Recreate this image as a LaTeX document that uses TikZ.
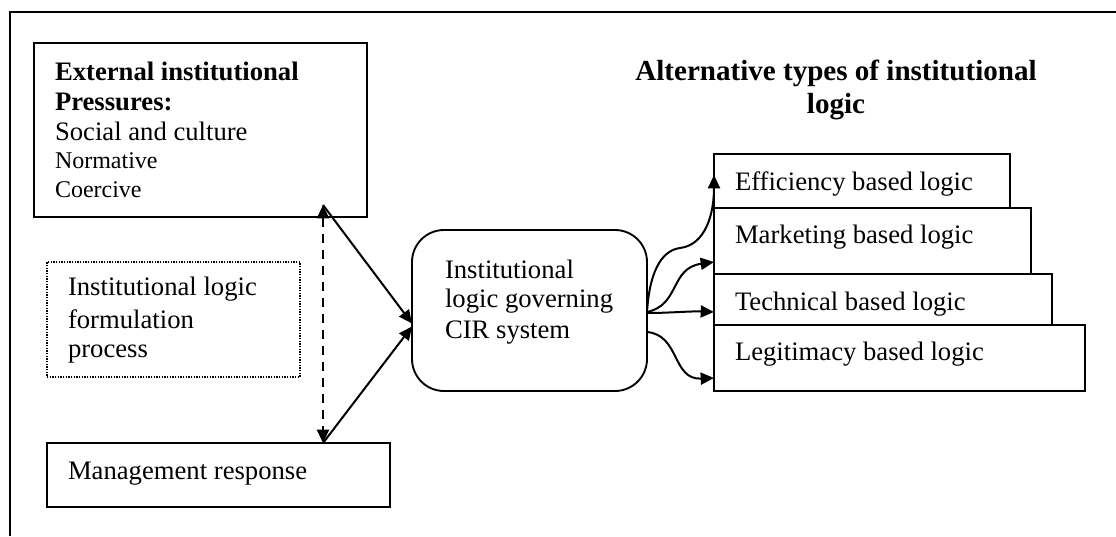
\documentclass[tikz,border=0pt]{standalone}
\usepackage{fontspec}
\setmainfont{Liberation Serif}
\usetikzlibrary{arrows.meta,calc}
\begin{document}
\begin{tikzpicture}[x=0.75pt,y=-0.75pt,
  box/.style={draw,line width=1.4pt,inner sep=0pt,outer sep=0pt,anchor=north west,fill=white},
  txt/.style={anchor=base west,inner sep=0pt,outer sep=0pt,font=\fontsize{20}{23}\selectfont},
  txtb/.style={txt,font=\fontsize{20}{23}\selectfont\bfseries},
  txts/.style={txt,font=\fontsize{18}{21}\selectfont},
  titletxt/.style={anchor=base,inner sep=0pt,outer sep=0pt,font=\fontsize{21.8}{25}\selectfont\bfseries},
  tip/.style={-{Triangle[length=10pt,width=9pt]}},
  conn/.style={line width=1.5pt,tip},
  dashconn/.style={line width=1.5pt,dash pattern=on 7pt off 5pt,{Triangle[length=10pt,width=9pt]}-{Triangle[length=10pt,width=9pt]}}
]
\useasboundingbox (0,0) rectangle (1116,536);
% outer frame
\draw[line width=1.8pt] (10,536) -- (10,12) -- (1116,12);

% left boxes
\node[box,minimum width=249.75pt,minimum height=130.5pt] (ext) at (34,43) {};
\node[txtb] (ext1) at (55,80) {External institutional};
\node[txtb] (ext2) at (55,110) {Pressures:};
\node[txt] (ext3) at (55,140) {Social and culture};
\node[txts] (ext4) at (55,168) {Normative};
\node[txts] (ext5) at (55,197) {Coercive};

\node[box,line width=1pt,dash pattern=on 1pt off 1pt,minimum width=189.75pt,minimum height=86.25pt] (proc) at (47,262) {};
\node[txt] (proc1) at (68,295) {Institutional logic};
\node[txt] (proc2) at (68,328) {formulation};
\node[txt] (proc3) at (68,357) {process};

\node[box,minimum width=257.25pt,minimum height=48pt] (mgmt) at (47,443) {};
\node[txt] (mgmt1) at (68,479) {Management response};

% central box
\node[box,rounded corners=24pt,minimum width=176.25pt,minimum height=120.75pt] (cir) at (412,230) {};
\node[txt] (cir1) at (445,278) {Institutional};
\node[txt] (cir2) at (445,307) {logic governing};
\node[txt] (cir3) at (445,338) {CIR system};

% title
\node[titletxt] (title1) at (836,80) {Alternative types of institutional};
\node[titletxt] (title2) at (836,113) {logic};

% right boxes
\node[box,minimum width=222pt,minimum height=40.5pt] (eff) at (714,154) {};
\node[box,minimum width=237.75pt,minimum height=49.5pt] (mkt) at (714,208) {};
\node[box,minimum width=253.5pt,minimum height=38.25pt] (tech) at (714,274) {};
\node[box,minimum width=278.25pt,minimum height=49.5pt] (legit) at (714,325) {};
\node[txt] (eff1) at (735,190) {Efficiency based logic};
\node[txt] (mkt1) at (735,243) {Marketing based logic};
\node[txt] (tech1) at (735,310) {Technical based logic};
\node[txt] (legit1) at (735,360) {Legitimacy based logic};

% connectors on the left
\coordinate (ep) at (323,205);
\coordinate (mp) at (ep |- mgmt.north);
\coordinate (cin1) at ($(cir.west)+(0,13)$);
\coordinate (cin2) at ($(cir.west)+(0,16)$);
\draw[dashconn] (ep) -- (mp);
\draw[conn] (ep) -- (cin1);
\draw[conn] (mp) -- (cin2);

% connectors on the right
\coordinate (s1) at ($(cir.east)+(0,1.5)$);
\coordinate (s2) at ($(cir.east)+(0,2.5)$);
\coordinate (s4) at ($(cir.east)+(0,21.5)$);
\coordinate (m1) at (680,248);
\coordinate (t1) at ($(eff.south west)+(0,-33)$);
\coordinate (t2) at ($(mkt.south west)+(0,-12)$);
\coordinate (t3) at ($(tech.south west)+(0,-13)$);
\coordinate (t4) at ($(legit.south west)+(0,-13)$);
\draw[line width=1.5pt] (s1) .. controls (650,265) and (665,250) .. (m1);
\draw[conn] (m1) .. controls (705,245) and (714,215) .. (t1);
\draw[conn] (s1) .. controls (680,305) and (670,268) .. (t2);
\draw[conn] (s2) .. controls (670,313) and (690,311) .. (t3);
\draw[conn] (s4) .. controls (680,335) and (672,380) .. (t4);
\end{tikzpicture}
\end{document}
